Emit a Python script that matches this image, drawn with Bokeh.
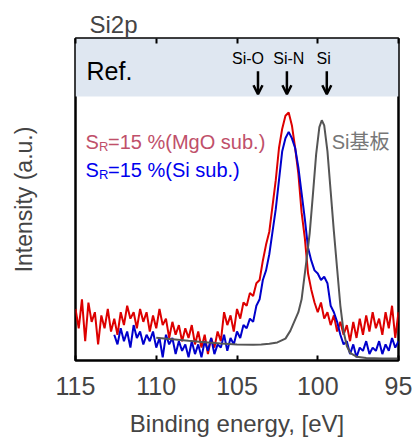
from bokeh.plotting import figure
from bokeh.models import Range1d, LinearAxis, FixedTicker, Arrow, OpenHead, BoxAnnotation, Title
from bokeh.core.properties import value
from bokeh.embed import file_html
from bokeh.resources import INLINE

# ---------------- data ----------------
x_ticks = [115, 110, 105, 100, 95]

red_x = [115.0, 114.8, 114.6, 114.4, 114.2, 114.0, 113.8, 113.6, 113.4, 113.2,
         113.0, 112.8, 112.6, 112.4, 112.2, 112.0, 111.8, 111.6, 111.4, 111.2,
         111.0, 110.8, 110.6, 110.4, 110.2, 110.0, 109.8, 109.6, 109.4, 109.2,
         109.0, 108.8, 108.6, 108.4, 108.2, 108.0, 107.8, 107.6, 107.4, 107.2,
         107.0, 106.8, 106.6, 106.4, 106.2, 106.0, 105.8, 105.6, 105.4, 105.2,
         105.0, 104.8, 104.6, 104.4, 104.2, 104.0, 103.8, 103.6, 103.4, 103.2,
         103.0, 102.8, 102.6, 102.4, 102.2, 102.0, 101.8, 101.6, 101.4, 101.2,
         101.0, 100.8, 100.6, 100.4, 100.2, 100.0, 99.8, 99.6, 99.4, 99.2,
         99.0, 98.8, 98.6, 98.4, 98.2, 98.0, 97.8, 97.6, 97.4, 97.2,
         97.0, 96.8, 96.6, 96.4, 96.2, 96.0, 95.8, 95.6, 95.4, 95.2, 95.0]
red_y = [0.16, 0.10, 0.19, 0.06, 0.18, 0.12, 0.15, 0.05, 0.14, 0.10,
         0.16, 0.09, 0.13, 0.08, 0.15, 0.11, 0.17, 0.13, 0.15, 0.10,
         0.16, 0.12, 0.15, 0.09, 0.14, 0.10, 0.16, 0.11, 0.13, 0.07,
         0.12, 0.08, 0.11, 0.06, 0.10, 0.07, 0.11, 0.05, 0.09, 0.04,
         0.08, 0.02, 0.07, 0.04, 0.09, 0.06, 0.15, 0.11, 0.14, 0.09,
         0.16, 0.13, 0.18, 0.17, 0.21, 0.20, 0.24, 0.25, 0.31, 0.36,
         0.40, 0.48, 0.56, 0.66, 0.72, 0.76, 0.77, 0.73, 0.66, 0.58,
         0.46, 0.38, 0.27, 0.22, 0.18, 0.15, 0.18, 0.13, 0.15, 0.11,
         0.14, 0.09, 0.12, 0.08, 0.11, 0.06, 0.12, 0.07, 0.13, 0.08,
         0.14, 0.09, 0.15, 0.10, 0.13, 0.08, 0.15, 0.10, 0.17, 0.07, 0.15]

blue_x = [112.6, 112.4, 112.2, 112.0, 111.8, 111.6, 111.4, 111.2,
          111.0, 110.8, 110.6, 110.4, 110.2, 110.0, 109.8, 109.6, 109.4, 109.2,
          109.0, 108.8, 108.6, 108.4, 108.2, 108.0, 107.8, 107.6, 107.4, 107.2,
          107.0, 106.8, 106.6, 106.4, 106.2, 106.0, 105.8, 105.6, 105.4, 105.2,
          105.0, 104.8, 104.6, 104.4, 104.2, 104.0, 103.8, 103.6, 103.4, 103.2,
          103.0, 102.8, 102.6, 102.4, 102.2, 102.0, 101.8, 101.6, 101.4, 101.2,
          101.0, 100.8, 100.6, 100.4, 100.2, 100.0, 99.8, 99.6, 99.4, 99.2,
          99.0, 98.8, 98.6, 98.4, 98.2, 98.0, 97.8, 97.6, 97.4, 97.2,
          97.0, 96.8, 96.6, 96.4, 96.2, 96.0, 95.8, 95.6, 95.4, 95.2, 95.0]
blue_y = [0.08, 0.05, 0.10, 0.06, 0.09, 0.04, 0.11, 0.07,
          0.09, 0.05, 0.08, 0.06, 0.09, 0.04, 0.07, 0.01, 0.08, 0.05,
          0.07, 0.02, 0.06, 0.03, 0.05, 0.01, 0.06, 0.02, 0.05, 0.01,
          0.06, 0.03, 0.07, 0.02, 0.05, 0.04, 0.08, 0.03, 0.07, 0.05,
          0.09, 0.07, 0.11, 0.10, 0.13, 0.12, 0.17, 0.19, 0.25, 0.28,
          0.33, 0.40, 0.47, 0.56, 0.65, 0.69, 0.71, 0.69, 0.66, 0.60,
          0.52, 0.44, 0.35, 0.31, 0.28, 0.27, 0.25, 0.26, 0.24, 0.17,
          0.15, 0.12, 0.08, 0.05, 0.06, 0.02, 0.05, 0.01, 0.04, 0.03,
          0.06, 0.02, 0.04, 0.03, 0.06, 0.02, 0.05, 0.03, 0.07, 0.04, 0.06]

gray_x = [110.0, 109.0, 108.0, 107.0, 106.0, 105.0, 104.0, 103.5, 103.0, 102.5,
          102.0, 101.7, 101.5, 101.2, 101.0, 100.9, 100.7, 100.5, 100.3, 100.1,
          99.9, 99.75, 99.6, 99.4, 99.2, 99.0, 98.8, 98.6, 98.4, 98.2,
          98.0, 97.6, 97.0, 96.0, 95.0]
gray_y = [0.071, 0.066, 0.061, 0.057, 0.053, 0.050, 0.049, 0.050, 0.052, 0.056,
          0.068, 0.092, 0.115, 0.150, 0.190, 0.230, 0.310, 0.395, 0.515, 0.640,
          0.725, 0.746, 0.730, 0.650, 0.525, 0.400, 0.285, 0.170, 0.090, 0.045,
          0.024, 0.012, 0.008, 0.006, 0.006]

ref_labels = ["Si-O", "Si-N", "Si"]
ref_label_x = [104.32, 101.79, 99.63]
ref_arrow_x = [103.70, 101.91, 99.44]

# ---------------- figure ----------------
FONT = "Liberation Sans"
CJK = "Liberation Sans, Noto Sans CJK JP"

p = figure(width=414, height=439, output_backend="svg", toolbar_location=None,
           x_range=Range1d(115, 95), y_range=Range1d(0, 1),
           x_axis_location=None, y_axis_location=None,
           min_border_left=75, min_border_right=16, min_border_top=38, min_border_bottom=78)
p.grid.grid_line_color = None
p.background_fill_color = "white"
p.border_fill_color = "white"
p.outline_line_color = "black"
p.outline_line_width = 2.5

p.title = Title(text="Si2p", text_font=FONT, text_font_size="24px", text_font_style="normal",
                align="left", offset=14, standoff=2)

def style_x(ax, labels):
    ax.ticker = FixedTicker(ticks=x_ticks)
    ax.major_tick_in = 5
    ax.major_tick_out = 0
    ax.minor_tick_line_color = None
    ax.major_tick_line_width = 2
    ax.axis_line_color = None
    if labels:
        ax.major_label_text_font = FONT
        ax.major_label_text_font_size = "25px"
        ax.major_label_standoff = 16
        ax.axis_label = "Binding energy, [eV]"
        ax.axis_label_text_font = FONT
        ax.axis_label_text_font_size = "24px"
        ax.axis_label_text_font_style = "normal"
        ax.axis_label_standoff = 12
    else:
        ax.major_label_text_font_size = "1px"
        ax.major_label_text_color = None
        ax.major_label_standoff = 0

xb = LinearAxis()
style_x(xb, True)
p.add_layout(xb, "below")
xt = LinearAxis()
style_x(xt, False)
p.add_layout(xt, "above")

yl = LinearAxis(ticker=FixedTicker(ticks=[]))
yl.major_label_text_font_size = "1px"
yl.major_label_text_color = None
yl.major_tick_line_color = None
yl.minor_tick_line_color = None
yl.axis_line_color = None
yl.axis_label = "Intensity (a.u.)"
yl.axis_label_text_font = FONT
yl.axis_label_text_font_size = "23px"
yl.axis_label_text_font_style = "normal"
yl.axis_label_standoff = 39
p.add_layout(yl, "left")

# reference band
p.add_layout(BoxAnnotation(bottom=0.82, fill_color="#dfe7f1", fill_alpha=1.0,
                           line_color=None, level="underlay"))

# curves
p.line(red_x, red_y, line_color="#dd0000", line_width=2)
p.line(blue_x, blue_y, line_color="#0000cc", line_width=2)
p.line(gray_x, gray_y, line_color="#555555", line_width=2)

# reference labels
p.text(x=[114.32], y=[0.90], text=["Ref."], text_font=value(FONT), text_font_size="25px",
       text_baseline="middle", text_align="left", text_color="black")
p.text(x=ref_label_x, y=[0.938] * 3, text=ref_labels, text_font=value(FONT),
       text_font_size="16px", text_baseline="middle", text_align="center", text_color="black")
for ax_ in ref_arrow_x:
    p.add_layout(Arrow(end=OpenHead(size=9, line_width=2.5, line_color="black"),
                       x_start=ax_, y_start=0.898, x_end=ax_, y_end=0.827,
                       line_width=2.5, line_color="black"))

# legend-like labels
for yb, col, txt in [(0.678, "#c0506a", "=15 %(MgO sub.)"), (0.591, "#0000ee", "=15 %(Si sub.)")]:
    p.text(x=[114.38], y=[yb], text=["S"], text_font=value(FONT), text_font_size="20px",
           text_baseline="alphabetic", text_align="left", text_color=col)
    p.text(x=[114.38], y=[yb], text=["R"], text_font=value(FONT), text_font_size="13px",
           text_baseline="alphabetic", text_align="left", text_color=col,
           x_offset=13.5, y_offset=4)
    p.text(x=[114.38], y=[yb], text=[txt], text_font=value(FONT), text_font_size="20px",
           text_baseline="alphabetic", text_align="left", text_color=col, x_offset=22.5)

p.text(x=[99.14], y=[0.678], text=["Si基板"], text_font=value(CJK), text_font_size="20px",
       text_baseline="alphabetic", text_align="left", text_color="#777777")

open("out.html", "w").write(file_html(p, INLINE))
